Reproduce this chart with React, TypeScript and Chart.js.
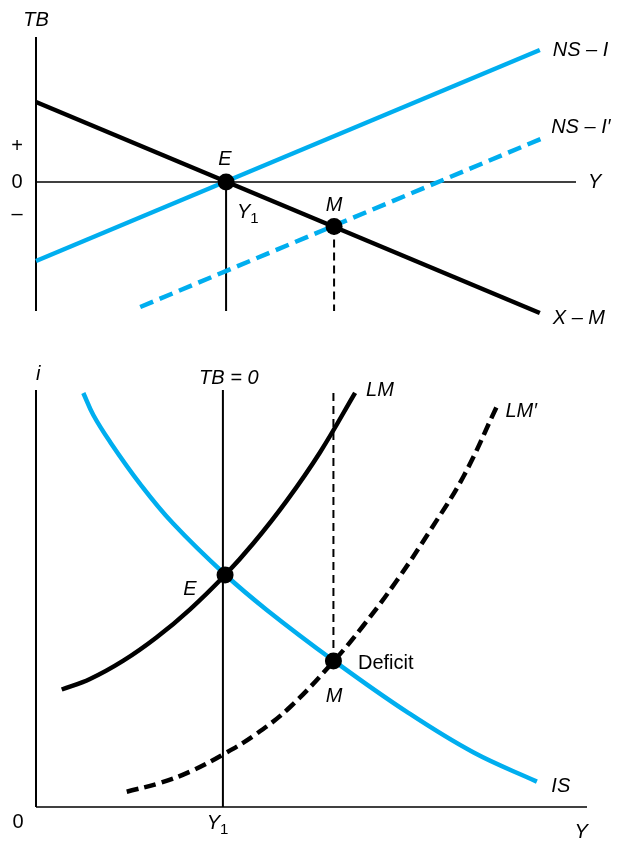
import React, { useEffect, useRef } from "react";
import { Chart, registerables } from "chart.js";
Chart.register(...registerables);

// ---------- Top panel data (Y = income, TB = trade balance) ----------
const topYRange = [0, 100];
const topTBRange = [-13, 14.5];
const xmY = [0, 93.3];
const xmTB = [8.0, -13.1];
const nsiY = [0, 93.3];
const nsiTB = [-7.9, 13.2];
const nsi2Y = [19.3, 93.9];
const nsi2TB = [-12.5, 4.4];
const topY1 = 35.2;
const topM = { Y: 55.2, TB: -4.45 };
const topAxisTop = 14.5;
const topAxisBottom = -12.9;

// ---------- Bottom panel data (Y = income, i = interest rate) ----------
const botYRange = [0, 102];
const botIRange = [0, 41.7];
const isY = [8.76, 10.61, 13.7, 19.26, 25.43, 35.0, 42.72, 55.06, 68.65, 80.93, 92.72];
const isI = [41.4, 39.2, 36.52, 32.32, 28.32, 23.25, 19.71, 14.65, 9.51, 5.47, 2.54];
const lmY = [4.76, 10.0, 16.17, 22.35, 28.52, 35.0, 40.24, 46.43, 52.59, 59.07];
const lmI = [11.75, 12.8, 14.63, 16.97, 19.77, 23.2, 26.37, 30.64, 35.48, 41.42];
const lm2Y = [16.8, 22.96, 28.52, 34.69, 40.87, 47.04, 55.06, 60.61, 66.8, 72.96, 79.13, 85.31];
const lm2I = [1.53, 2.4, 3.54, 5.27, 7.34, 10.0, 14.55, 18.15, 22.65, 27.65, 33.05, 40.06];
const botY1 = 34.6;
const botE = { Y: 35.0, i: 23.2 };
const botM = { Y: 55.06, i: 14.6 };
const botAxisTop = 41.7;

const BLUE = "#00aeef";
const FONT = '"Liberation Sans", Arial, Helvetica, sans-serif';

type Lbl = { t: string; x: number; y: number; a?: CanvasTextAlign; it?: boolean; sub?: string; size?: number };

const topLabels: Lbl[] = [
  { t: "TB", x: 0, y: 16.2, a: "center", it: true },
  { t: "+", x: -3.5, y: 3.6, a: "center" },
  { t: "0", x: -3.5, y: 0, a: "center" },
  { t: "\u2013", x: -3.5, y: -3.2, a: "center" },
  { t: "E", x: 35.0, y: 2.3, a: "center", it: true },
  { t: "Y", x: 37.2, y: -3.0, a: "left", it: true, sub: "1" },
  { t: "M", x: 55.2, y: -2.3, a: "center", it: true },
  { t: "NS \u2013 I", x: 95.7, y: 13.2, a: "left", it: true },
  { t: "NS \u2013 I\u2032", x: 95.4, y: 5.5, a: "left", it: true },
  { t: "Y", x: 102.2, y: 0, a: "left", it: true },
  { t: "X \u2013 M", x: 95.7, y: -13.6, a: "left", it: true },
];

const botLabels: Lbl[] = [
  { t: "i", x: 0.4, y: 43.3, a: "center", it: true },
  { t: "TB = 0", x: 35.7, y: 42.9, a: "center", it: true },
  { t: "LM", x: 61.1, y: 41.7, a: "left", it: true },
  { t: "LM\u2032", x: 86.9, y: 39.6, a: "left", it: true },
  { t: "E", x: 28.5, y: 21.8, a: "center", it: true },
  { t: "Deficit", x: 59.6, y: 14.4, a: "left", it: false },
  { t: "M", x: 55.2, y: 11.1, a: "center", it: true },
  { t: "IS", x: 95.4, y: 2.1, a: "left", it: true },
  { t: "0", x: -3.3, y: -1.5, a: "center" },
  { t: "Y", x: 33.6, y: -1.6, a: "center", it: true, sub: "1" },
  { t: "Y", x: 100.9, y: -2.5, a: "center", it: true },
];

function line(xs: number[], ys: number[], color: string, width: number, dash: number[] = [], curve = false) {
  return {
    type: "scatter" as const,
    data: xs.map((x, k) => ({ x, y: ys[k] })),
    showLine: true,
    borderColor: color,
    backgroundColor: color,
    borderWidth: width,
    borderDash: dash,
    borderCapStyle: "butt" as const,
    pointRadius: 0,
    pointHoverRadius: 0,
    tension: curve ? 0.4 : 0,
    cubicInterpolationMode: "default" as const,
    clip: false as any,
    fill: false,
  };
}

function dots(pts: { x: number; y: number }[]) {
  return {
    type: "scatter" as const,
    data: pts,
    showLine: false,
    pointRadius: 8.5,
    pointHoverRadius: 8.5,
    backgroundColor: "#000",
    borderWidth: 0,
    clip: false as any,
  };
}

function labelPlugin(labels: Lbl[]) {
  return {
    id: "labels",
    afterDraw(chart: any) {
      const ctx = chart.ctx as CanvasRenderingContext2D;
      const xs = chart.scales.x;
      const ys = chart.scales.y;
      ctx.save();
      ctx.fillStyle = "#000";
      ctx.textBaseline = "middle";
      for (const l of labels) {
        const size = l.size || 20;
        ctx.font = `${l.it ? "italic " : ""}${size}px ${FONT}`;
        const px = xs.getPixelForValue(l.x);
        const py = ys.getPixelForValue(l.y);
        if (l.sub) {
          const w = ctx.measureText(l.t).width;
          ctx.font = `${size - 5}px ${FONT}`;
          const ws = ctx.measureText(l.sub).width;
          const total = w + ws;
          let start = px;
          if (l.a === "center") start = px - total / 2;
          ctx.textAlign = "left";
          ctx.font = `${l.it ? "italic " : ""}${size}px ${FONT}`;
          ctx.fillText(l.t, start, py);
          ctx.font = `${size - 5}px ${FONT}`;
          ctx.fillText(l.sub, start + w, py + 7);
        } else {
          ctx.textAlign = l.a || "left";
          ctx.fillText(l.t, px, py);
        }
      }
      ctx.restore();
    },
  };
}

function baseOptions(xr: number[], yr: number[], pad: { top: number; bottom: number; left: number; right: number }) {
  return {
    responsive: false,
    animation: false as const,
    layout: { padding: pad },
    plugins: { legend: { display: false }, tooltip: { enabled: false } },
    events: [] as any[],
    scales: {
      x: { type: "linear" as const, min: xr[0], max: xr[1], display: false },
      y: { type: "linear" as const, min: yr[0], max: yr[1], display: false },
    },
  };
}

function topConfig(): any {
  return {
    type: "scatter",
    data: {
      datasets: [
        dots([{ x: topY1, y: 0 }, { x: topM.Y, y: topM.TB }]),
        line(xmY, xmTB, "#000", 4.5),
        line(nsiY, nsiTB, BLUE, 4.5),
        line(nsi2Y, nsi2TB, BLUE, 4.5, [14, 7]),
        line([topM.Y, topM.Y], [topM.TB, topAxisBottom], "#000", 2, [8, 5]),
        line([topY1, topY1], [0, topAxisBottom], "#000", 2),
        line([0, 0], [topAxisBottom, topAxisTop], "#000", 2),
        line(topYRange, [0, 0], "#000", 1.5),
      ],
    },
    options: baseOptions(topYRange, topTBRange, { top: 37, bottom: 841 - 312, left: 36, right: 622 - 576 }),
    plugins: [labelPlugin(topLabels)],
  };
}

function bottomConfig(): any {
  return {
    type: "scatter",
    data: {
      datasets: [
        dots([{ x: botE.Y, y: botE.i }, { x: botM.Y, y: botM.i }]),
        line(lmY, lmI, "#000", 4.5, [], true),
        line(lm2Y, lm2I, "#000", 4.5, [12, 6], true),
        line(isY, isI, BLUE, 4.5, [], true),
        line([botM.Y, botM.Y], [botM.i, botAxisTop], "#000", 2, [8, 5]),
        line([botY1, botY1], [0, botAxisTop], "#000", 2),
        line([0, 0], [0, botAxisTop], "#000", 2),
        line(botYRange, [0, 0], "#000", 1.5),
      ],
    },
    options: baseOptions(botYRange, botIRange, { top: 390, bottom: 841 - 807, left: 36, right: 622 - 587 }),
    plugins: [labelPlugin(botLabels)],
  };
}

export default function App() {
  const topRef = useRef<HTMLCanvasElement>(null);
  const botRef = useRef<HTMLCanvasElement>(null);
  useEffect(() => {
    const c1 = new Chart(topRef.current!, topConfig());
    const c2 = new Chart(botRef.current!, bottomConfig());
    return () => {
      c1.destroy();
      c2.destroy();
    };
  }, []);
  return (
    <div style={{ position: "absolute", left: 0, top: 0, width: 622, height: 841, background: "#fff" }}>
      <canvas ref={topRef} width={622} height={841} style={{ position: "absolute", left: 0, top: 0, width: 622, height: 841 }} />
      <canvas ref={botRef} width={622} height={841} style={{ position: "absolute", left: 0, top: 0, width: 622, height: 841 }} />
    </div>
  );
}
